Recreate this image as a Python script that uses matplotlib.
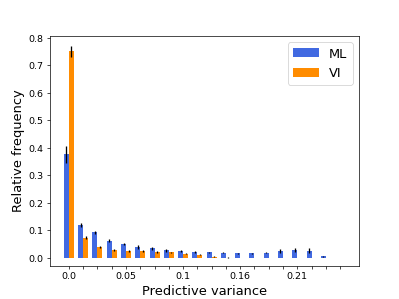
import numpy as np
import matplotlib
matplotlib.use("Agg")
import matplotlib.pyplot as plt

# relative frequency per predictive-variance bin
tick_labels = ["0.0", "", "", "", "0.05", "", "", "", "0.1", "", "", "", "0.16", "", "", "", "0.21", "", "", ""]

ml_freq = [0.376, 0.119, 0.093, 0.062, 0.050, 0.039, 0.034, 0.027, 0.025, 0.021,
           0.020, 0.018, 0.017, 0.017, 0.018, 0.025, 0.028, 0.025, 0.006, 0.0]
ml_err = [0.030, 0.007, 0.006, 0.005, 0.004, 0.006, 0.005, 0.006, 0.004, 0.003,
          0.002, 0.002, 0.002, 0.002, 0.002, 0.008, 0.008, 0.009, 0.002, 0.0]

vi_freq = [0.752, 0.073, 0.040, 0.029, 0.025, 0.025, 0.021, 0.020, 0.015, 0.011,
           0.004, 0.001, 0.0, 0.0, 0.0, 0.0, 0.0, 0.0, 0.0, 0.0]
vi_err = [0.020, 0.006, 0.004, 0.003, 0.002, 0.003, 0.003, 0.003, 0.002, 0.002,
          0.001, 0.001, 0.0, 0.0, 0.0, 0.0, 0.0, 0.0, 0.0, 0.0]

x = np.arange(len(ml_freq))
width = 0.35

dpi = 399 / 6.4
fig, ax = plt.subplots(figsize=(6.4, 4.8), dpi=dpi)
ax.bar(x - width / 2, ml_freq, width, yerr=ml_err, color='royalblue', label='ML',
       error_kw=dict(ecolor='black', elinewidth=1.5))
ax.bar(x + width / 2, vi_freq, width, yerr=vi_err, color='darkorange', label='VI',
       error_kw=dict(ecolor='black', elinewidth=1.5))

ax.set_xticks(x)
ax.set_xticklabels(tick_labels)
ax.tick_params(labelsize=11)
ax.set_ylim(-0.03, 0.808)
ax.set_xlabel("Predictive variance", fontsize=15)
ax.set_ylabel("Relative frequency", fontsize=15)
ax.legend(loc='upper right', fontsize=15)

plt.savefig("out.png", dpi=dpi)
